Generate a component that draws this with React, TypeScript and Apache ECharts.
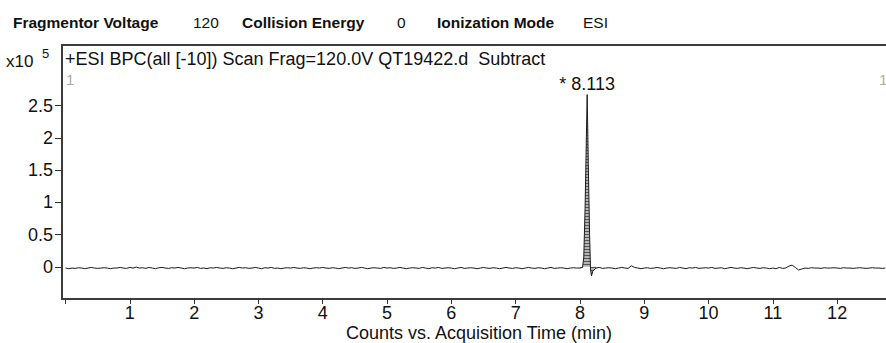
import React, { useEffect, useRef } from 'react';
import * as echarts from 'echarts';

// Base peak chromatogram, counts in units of x10^5
const scanStart = 0;
const scanStep = 0.05;
const baselineCounts: (number | null)[] = [
  -0.02, -0.03, -0.02, -0.025, -0.015, -0.02, -0.03, -0.02, -0.01, -0.02, -0.025, -0.02, -0.015, -0.02, -0.03, -0.02, -0.02, -0.01, -0.02, -0.025,
  -0.01, -0.02, -0.005, -0.02, -0.015, -0.025, -0.01, -0.02, -0.03, -0.015, -0.01, -0.02, -0.025, -0.015, -0.02, -0.01, -0.02, -0.03, -0.02, -0.015,
  -0.02, -0.01, -0.025, -0.02, -0.03, -0.015, -0.02, -0.01, -0.02, -0.025, -0.015, -0.02, -0.03, -0.02, -0.01, -0.02, -0.015, -0.025, -0.02, -0.01,
  -0.02, -0.03, -0.015, -0.02, -0.01, -0.025, -0.02, -0.03, -0.02, -0.015, -0.02, -0.01, -0.02, -0.025, -0.015, -0.02, -0.03, -0.02, -0.015, -0.02,
  -0.01, -0.02, -0.025, -0.015, -0.02, -0.03, -0.02, -0.01, -0.02, -0.015, -0.025, -0.02, -0.01, -0.02, -0.03, -0.02, -0.015, -0.02, -0.025, -0.01,
  -0.02, -0.015, -0.025, -0.02, -0.01, -0.02, -0.03, -0.02, -0.015, -0.02, -0.025, -0.01, -0.02, -0.03, -0.015, -0.02, -0.01, -0.025, -0.02, -0.015,
  -0.02, -0.03, -0.02, -0.01, -0.025, -0.02, -0.015, -0.02, -0.03, -0.02, -0.01, -0.02, -0.025, -0.015, -0.02, -0.03, -0.02, -0.01, -0.02, -0.025,
  -0.015, -0.02, -0.03, -0.02, -0.01, -0.02, -0.025, -0.015, -0.02, -0.03, -0.02, -0.01, -0.025, -0.02, -0.015, -0.02, -0.03, -0.02, -0.015, -0.02,
  -0.02, null, null, null, null, -0.02, -0.01, -0.025, -0.02, -0.015, -0.02, -0.03, -0.02, -0.01, -0.02, -0.025, 0.015, -0.01, -0.02, -0.03,
  -0.02, -0.015, -0.025, -0.02, -0.01, -0.02, -0.03, -0.02, -0.015, -0.02, -0.025, -0.01, -0.02, -0.03, -0.015, -0.02, -0.01, -0.025, -0.02, -0.015,
  -0.02, -0.01, -0.025, -0.02, -0.015, -0.03, -0.02, -0.01, -0.02, -0.025, -0.015, -0.02, -0.03, -0.02, -0.01, -0.02, -0.025, -0.015, -0.02, -0.03,
  -0.02, -0.03, -0.01, -0.025, -0.02, 0.01, 0.025, -0.01, -0.05, -0.035, -0.02, -0.025, -0.015, -0.02, -0.02, -0.025, -0.015, -0.02, -0.02, -0.015,
  -0.02, -0.025, -0.015, -0.02, -0.02, -0.025, -0.02, -0.015, -0.02, -0.025, -0.02, -0.015, -0.02, -0.02, -0.025, -0.02,
];

const peakTimes = [8.0, 8.04, 8.06, 8.08, 8.1, 8.113, 8.13, 8.15, 8.165, 8.18, 8.2, 8.25];
const peakCounts = [-0.02, -0.01, 0.15, 0.9, 2.0, 2.67, 1.6, 0.5, -0.05, -0.14, -0.07, -0.02];
const peakApexTime = 8.113;
const peakLabelText = '* 8.113';

const xTickValues = [0, 1, 2, 3, 4, 5, 6, 7, 8, 9, 10, 11, 12];
const xLabelValues = [1, 2, 3, 4, 5, 6, 7, 8, 9, 10, 11, 12];
const yTickValues = [0, 0.5, 1, 1.5, 2, 2.5];

const X_MIN = -0.055;
const X_MAX = 12.76;
const Y_MIN = -0.5;
const Y_MAX = 3.44;

const FONT = 'Liberation Sans, Arial, sans-serif';
const FRAME = { color: '#3c3c3c', width: 2 };

function makeHatch(): HTMLCanvasElement | string {
  try {
    const c = document.createElement('canvas');
    c.width = 4;
    c.height = 3;
    const ctx = c.getContext('2d');
    if (!ctx) return '#aaaaaa';
    ctx.fillStyle = '#b4b4b4';
    ctx.fillRect(0, 0, 4, 3);
    ctx.fillStyle = '#555555';
    ctx.fillRect(0, 0, 4, 1);
    return c;
  } catch (e) {
    return '#aaaaaa';
  }
}

export default function App() {
  const ref = useRef<HTMLDivElement>(null);
  useEffect(() => {
    if (!ref.current) return;
    const chart = echarts.init(ref.current, undefined, { renderer: 'svg' });
    const baseData = baselineCounts.map((v, i) => [scanStart + i * scanStep, v]);
    const peakData = peakTimes.map((t, i) => [t, peakCounts[i]]);
    const apexValue = peakCounts[peakTimes.indexOf(peakApexTime)];
    const hatch = makeHatch();
    const areaColor: any = typeof hatch === 'string' ? hatch : { image: hatch, repeat: 'repeat' };

    chart.setOption({
      animation: false,
      grid: {
        left: 62,
        top: 45,
        bottom: 44,
        right: 0,
        show: false,
      },
      xAxis: [
        {
          type: 'value',
          min: X_MIN,
          max: X_MAX,
          axisLine: { show: true, onZero: false, lineStyle: FRAME },
          splitLine: { show: false },
          axisTick: {
            show: true,
            length: 5,
            customValues: xTickValues,
            lineStyle: { color: '#333', width: 1 },
          },
          axisLabel: {
            customValues: xLabelValues,
            margin: 5,
            color: '#111',
            fontSize: 18,
            fontFamily: FONT,
          },
        },
        {
          type: 'value',
          position: 'top',
          min: X_MIN,
          max: X_MAX,
          axisLine: { show: true, onZero: false, lineStyle: FRAME },
          splitLine: { show: false },
          axisTick: { show: false },
          axisLabel: { show: false },
        },
      ],
      yAxis: {
        type: 'value',
        min: Y_MIN,
        max: Y_MAX,
        axisLine: { show: true, onZero: false, lineStyle: FRAME },
        splitLine: { show: false },
        axisTick: {
          show: true,
          length: 7,
          customValues: yTickValues,
          lineStyle: { color: '#333', width: 1 },
        },
        axisLabel: {
          customValues: yTickValues,
          margin: 9,
          color: '#111',
          fontSize: 18,
          fontFamily: FONT,
          formatter: (v: number) => String(v),
        },
      },
      series: [
        {
          type: 'line',
          data: baseData,
          showSymbol: false,
          symbol: 'none',
          connectNulls: false,
          lineStyle: { color: '#1a1a1a', width: 1 },
          silent: true,
        },
        {
          type: 'line',
          data: peakData,
          showSymbol: false,
          symbol: 'none',
          lineStyle: { color: '#1a1a1a', width: 1 },
          areaStyle: { color: areaColor, opacity: 1 },
          silent: true,
          markPoint: {
            symbol: 'circle',
            symbolSize: 1,
            itemStyle: { color: 'rgba(0,0,0,0)' },
            silent: true,
            label: {
              show: true,
              position: 'top',
              distance: 1,
              formatter: peakLabelText,
              color: '#111',
              fontSize: 18,
              fontFamily: FONT,
            },
            data: [{ coord: [peakApexTime, apexValue] }],
          },
        },
      ],
      graphic: [
        { type: 'text', left: 13, top: 14, style: { text: 'Fragmentor Voltage', font: `bold 15.5px ${FONT}`, fill: '#111' } },
        { type: 'text', left: 193, top: 14, style: { text: '120', font: `15.5px ${FONT}`, fill: '#111' } },
        { type: 'text', left: 242, top: 14, style: { text: 'Collision Energy', font: `bold 15.5px ${FONT}`, fill: '#111' } },
        { type: 'text', left: 397, top: 14, style: { text: '0', font: `15.5px ${FONT}`, fill: '#111' } },
        { type: 'text', left: 437, top: 14, style: { text: 'Ionization Mode', font: `bold 15.5px ${FONT}`, fill: '#111' } },
        { type: 'text', left: 583, top: 14, style: { text: 'ESI', font: `15.5px ${FONT}`, fill: '#111' } },
        { type: 'text', left: 6, top: 53, style: { text: 'x10', font: `17px ${FONT}`, fill: '#111' } },
        { type: 'text', left: 42, top: 47, style: { text: '5', font: `13px ${FONT}`, fill: '#111' } },
        { type: 'text', left: 65, top: 50, style: { text: '+ESI BPC(all [-10]) Scan Frag=120.0V QT19422.d  Subtract', font: `18px ${FONT}`, fill: '#111' } },
        { type: 'text', left: 66, top: 72, style: { text: '1', font: `15px ${FONT}`, fill: '#aaa' } },
        { type: 'text', left: 879, top: 72, style: { text: '1', font: `15px ${FONT}`, fill: '#aaa' } },
        { type: 'text', x: 479, y: 332.5, style: { text: 'Counts vs. Acquisition Time (min)', font: `18px ${FONT}`, fill: '#111', align: 'center', verticalAlign: 'middle' } },
      ],
    });
    return () => chart.dispose();
  }, []);
  return (
    <div
      ref={ref}
      style={{ position: 'absolute', left: 0, top: 0, width: 886, height: 343, background: '#fff' }}
    />
  );
}
